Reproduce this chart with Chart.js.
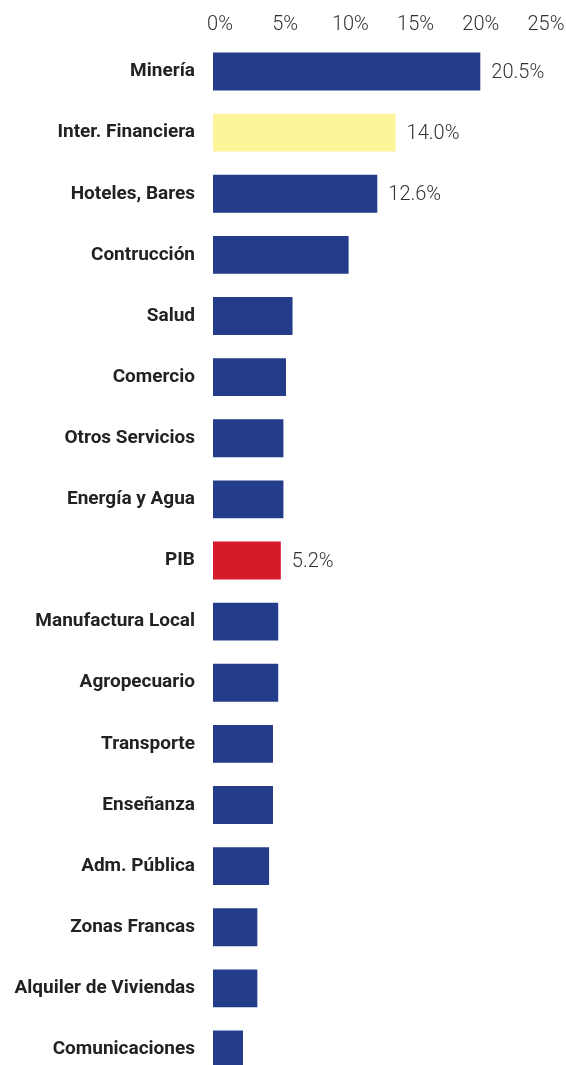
<!DOCTYPE html>
<html>
<head>
<meta charset="utf-8">
<script src="https://cdn.jsdelivr.net/npm/chart.js@4"></script>
<style>
  html, body { margin: 0; padding: 0; background: #ffffff; overflow: hidden; }
  canvas { display: block; }
</style>
</head>
<body>
<canvas id="chart" width="566" height="1080"></canvas>
<script>
// Crecimiento por sector (%)
const sectors = [
  'Minería', 'Inter. Financiera', 'Hoteles, Bares', 'Contrucción', 'Salud',
  'Comercio', 'Otros Servicios', 'Energía y Agua', 'PIB', 'Manufactura Local',
  'Agropecuario', 'Transporte', 'Enseñanza', 'Adm. Pública', 'Zonas Francas',
  'Alquiler de Viviendas', 'Comunicaciones'
];
const growth = [20.5, 14.0, 12.6, 10.4, 6.1, 5.6, 5.4, 5.4, 5.2, 5.0, 5.0, 4.6, 4.6, 4.3, 3.4, 3.4, 2.3];
// value labels shown next to selected bars
const valueLabels = ['20.5%', '14.0%', '12.6%', null, null, null, null, null, '5.2%',
  null, null, null, null, null, null, null, null];
const xTicks = [0, 5, 10, 15, 20, 25];

const BLUE = '#243d8b';
const YELLOW = '#fef59b';
const RED = '#d71a29';
const barColors = sectors.map(s => s === 'Inter. Financiera' ? YELLOW : (s === 'PIB' ? RED : BLUE));

const FONT = "Roboto, 'DejaVu Sans', sans-serif";

const valueLabelPlugin = {
  id: 'valueLabels',
  afterDatasetsDraw(chart) {
    const ctx = chart.ctx;
    const meta = chart.getDatasetMeta(0);
    ctx.save();
    ctx.font = '300 20px ' + FONT;
    ctx.fillStyle = '#333333';
    ctx.textAlign = 'left';
    ctx.textBaseline = 'middle';
    meta.data.forEach((bar, i) => {
      const txt = valueLabels[i];
      if (!txt) return;
      ctx.fillText(txt, bar.x + 11, bar.y + 1);
    });
    ctx.restore();
  }
};

new Chart(document.getElementById('chart'), {
  type: 'bar',
  data: {
    labels: sectors,
    datasets: [{
      data: growth,
      backgroundColor: barColors,
      borderWidth: 0,
      barPercentage: 0.62,
      categoryPercentage: 1.0
    }]
  },
  options: {
    indexAxis: 'y',
    responsive: false,
    devicePixelRatio: 1,
    animation: false,
    layout: { padding: { top: 0, right: 27, bottom: 0, left: 0 } },
    plugins: {
      legend: { display: false },
      tooltip: { enabled: false }
    },
    scales: {
      x: {
        position: 'top',
        min: 0,
        max: 25,
        afterBuildTicks(scale) {
          scale.ticks = xTicks.map(v => ({ value: v }));
        },
        afterFit(scale) { scale.height = 41; },
        grid: { display: false, drawTicks: false },
        border: { display: false },
        ticks: {
          padding: 4,
          labelOffset: 7,
          maxRotation: 0,
          color: '#333333',
          font: { family: FONT, size: 20, weight: '300' },
          callback: v => v + '%'
        }
      },
      y: {
        afterFit(scale) {
          scale.width = 213;
          scale.paddingTop = 0;
          scale.paddingBottom = 0;
        },
        grid: { display: false, drawTicks: false },
        border: { display: false },
        ticks: {
          padding: 18,
          color: '#222222',
          font: { family: FONT, size: 19, weight: 'bold' }
        }
      }
    }
  },
  plugins: [valueLabelPlugin]
});
</script>
</body>
</html>
